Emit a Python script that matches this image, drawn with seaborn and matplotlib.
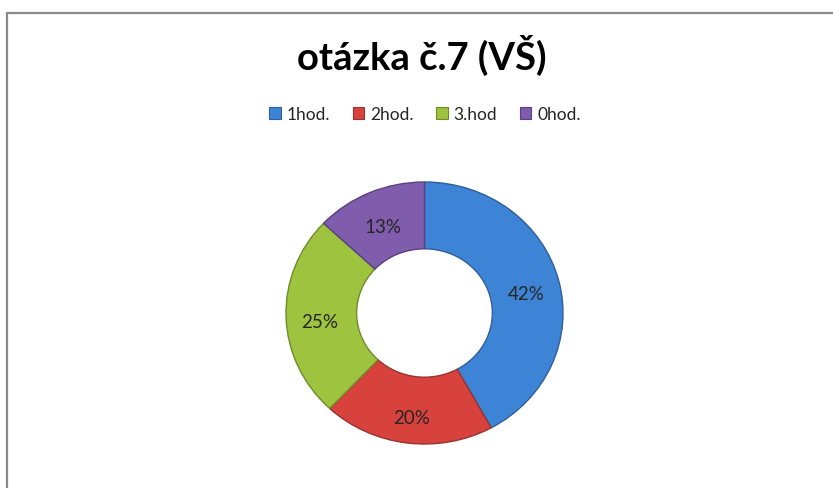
import matplotlib
matplotlib.use("Agg")
import numpy as np
import matplotlib.pyplot as plt
import seaborn as sns
from matplotlib.lines import Line2D
from matplotlib.patches import Patch

sns.set_style("white")
plt.rcParams['font.family'] = ['Lato', 'DejaVu Sans']

title = "otázka č.7 (VŠ)"
labels = ["1hod.", "2hod.", "3.hod", "0hod."]
values = [42, 20, 25, 13]
colors = ["#3D84D7", "#D7423D", "#9DC33F", "#7F5DAC"]
edges = ["#2F5F99", "#993330", "#6F8C2D", "#5A4080"]

W, H = 833, 489
fig = plt.figure(figsize=(W / 100, H / 100), dpi=100)
# donut occupies x 286..563, y 183..445 (pixels)
ax = fig.add_axes([286 / W, 1 - 445 / H, 277 / W, 262 / H])

wedges, texts = ax.pie(values, colors=colors, startangle=90, counterclock=False,
                       radius=1.0, wedgeprops=dict(width=0.51, linewidth=1.0))
for w, ec in zip(wedges, edges):
    w.set_edgecolor(ec)
for w, v in zip(wedges, values):
    ang = np.radians((w.theta1 + w.theta2) / 2)
    r = 0.76
    ax.text(r * np.cos(ang), r * np.sin(ang) - 0.04, f"{v}%",
            ha="center", va="center", fontsize=13.5, color="#262626")
ax.set_xlim(-1, 1)
ax.set_ylim(-1, 1)
ax.set_aspect("auto")
ax.axis("off")

fig.text(422 / W, 1 - 55 / H, title, ha="center", va="center",
         fontsize=27.5, fontweight="bold", color="black")

handles = [Patch(facecolor=c, edgecolor=e, linewidth=0.8) for c, e in zip(colors, edges)]
fig.legend(handles, labels, loc="center", bbox_to_anchor=(425 / W, 1 - 115 / H),
           ncol=4, frameon=False, fontsize=12.5, handlelength=0.65, handleheight=0.65,
           handletextpad=0.35, columnspacing=1.3)

# chart area frame (top and left edges visible)
fig.add_artist(Line2D([6.5 / W, 1], [1 - 13.5 / H, 1 - 13.5 / H],
                      color="#8a8a8a", lw=1.6, transform=fig.transFigure))
fig.add_artist(Line2D([6.5 / W, 6.5 / W], [0, 1 - 13.5 / H],
                      color="#8a8a8a", lw=1.6, transform=fig.transFigure))

fig.savefig("out.png", dpi=100, facecolor="white")
